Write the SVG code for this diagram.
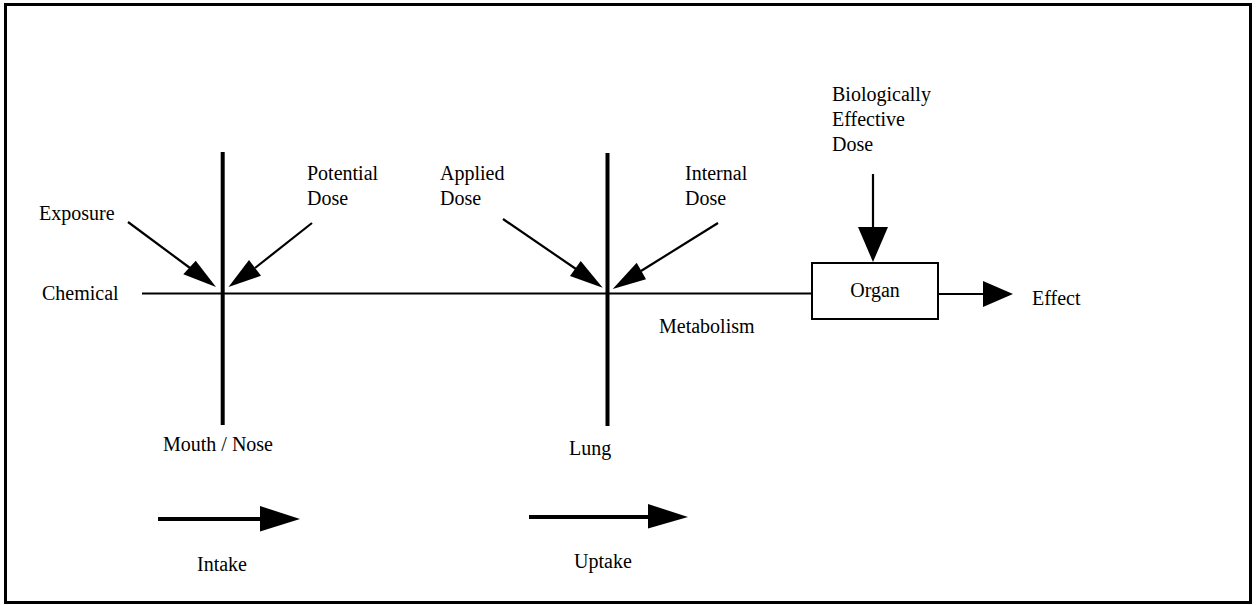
<svg xmlns="http://www.w3.org/2000/svg" width="1259" height="605" viewBox="0 0 1259 605">
<style>
text{font-family:"Liberation Serif","Times New Roman",serif;font-size:20px;fill:#000}
.ln{stroke:#000;stroke-width:2.2;fill:none}
.bar{stroke:#000;stroke-width:4;fill:none}
.head{fill:#000;stroke:none}
</style>
<rect x="0" y="0" width="1259" height="605" fill="#fff"/>
<rect x="5.5" y="4.5" width="1245" height="598" fill="none" stroke="#000" stroke-width="3"/>
<g id="connectors">
<line class="ln" x1="142" y1="293.5" x2="812" y2="293.5"/>
<line class="ln" x1="128" y1="222" x2="190" y2="268"/>
<polygon class="head" points="183.3,274.3 195.7,260.7 216,287"/>
<line class="ln" x1="312" y1="223" x2="255" y2="268"/>
<polygon class="head" points="249,260 261,275.7 228.5,287"/>
<line class="ln" x1="503" y1="219" x2="576" y2="269"/>
<polygon class="head" points="570,276 580.7,261 602.7,287.7"/>
<line class="ln" x1="718" y1="223" x2="641" y2="271"/>
<polygon class="head" points="636.7,262.7 646,279.3 612.7,289"/>
<line class="ln" x1="873" y1="174" x2="873" y2="230"/>
<polygon class="head" points="858,227 888,227 873,262"/>
<line class="ln" x1="938" y1="294" x2="985" y2="294"/>
<polygon class="head" points="983,281 983,307 1013,294"/>
<line class="bar" x1="158" y1="519" x2="262" y2="519"/>
<polygon class="head" points="260,506 260,531.5 300,519"/>
<line class="bar" x1="529" y1="517" x2="650" y2="517"/>
<polygon class="head" points="648,504 648,528.5 688,517"/>
</g>
<g id="mouth-nose">
<line class="bar" x1="222.7" y1="152" x2="222.7" y2="425"/>
<text x="163" y="451">Mouth / Nose</text>
</g>
<g id="lung">
<line class="bar" x1="607.5" y1="153" x2="607.5" y2="426"/>
<text x="569" y="455">Lung</text>
</g>
<g id="chemical"><text x="42" y="300">Chemical</text></g>
<g id="exposure"><text x="39" y="220">Exposure</text></g>
<g id="potential-dose"><text x="307" y="180">Potential</text><text x="307" y="205">Dose</text></g>
<g id="applied-dose"><text x="440" y="180">Applied</text><text x="440" y="205">Dose</text></g>
<g id="internal-dose"><text x="685" y="180">Internal</text><text x="685" y="205">Dose</text></g>
<g id="metabolism"><text x="659" y="333">Metabolism</text></g>
<g id="bed"><text x="832" y="101">Biologically</text><text x="832" y="126">Effective</text><text x="832" y="151">Dose</text></g>
<g id="organ">
<rect x="812" y="263" width="126" height="56" fill="#fff" stroke="#000" stroke-width="2"/>
<text x="875" y="297" text-anchor="middle">Organ</text>
</g>
<g id="effect"><text x="1032" y="305">Effect</text></g>
<g id="intake"><text x="197" y="571">Intake</text></g>
<g id="uptake"><text x="574" y="568">Uptake</text></g>
</svg>
